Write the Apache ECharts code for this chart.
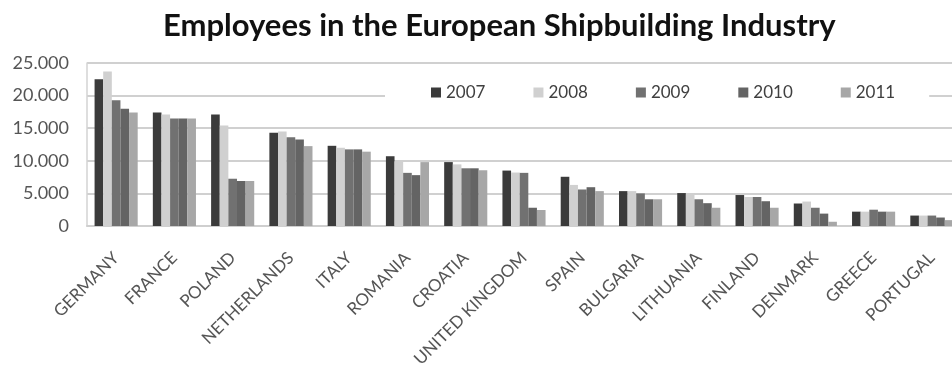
<!DOCTYPE html>
<html>
<head>
<meta charset="utf-8">
<script src="https://cdn.jsdelivr.net/npm/echarts@6/dist/echarts.min.js"></script>
<style>
  html, body { margin: 0; padding: 0; background: #fff; }
  #chart { width: 952px; height: 367px; }
</style>
</head>
<body>
<div id="chart"></div>
<script>
// Employees in shipbuilding, by country and year
const countries = ['GERMANY', 'FRANCE', 'POLAND', 'NETHERLANDS', 'ITALY', 'ROMANIA', 'CROATIA',
  'UNITED KINGDOM', 'SPAIN', 'BULGARIA', 'LITHUANIA', 'FINLAND', 'DENMARK', 'GREECE', 'PORTUGAL'];
const years = ['2007', '2008', '2009', '2010', '2011'];
const emp2007 = [22500, 17400, 17100, 14300, 12300, 10700, 9800, 8500, 7550, 5350, 5050, 4750, 3450, 2200, 1600];
const emp2008 = [23700, 17100, 15400, 14500, 12000, 9950, 9450, 8200, 6300, 5350, 5000, 4450, 3750, 2200, 1600];
const emp2009 = [19300, 16500, 7250, 13600, 11750, 8150, 8850, 8150, 5600, 5000, 4100, 4450, 2800, 2500, 1600];
const emp2010 = [18000, 16500, 6900, 13250, 11750, 7800, 8850, 2800, 5950, 4100, 3500, 3800, 1900, 2200, 1300];
const emp2011 = [17400, 16500, 6900, 12250, 11400, 9800, 8550, 2450, 5350, 4100, 2800, 2800, 650, 2200, 900];
const yTicks = [0, 5000, 10000, 15000, 20000, 25000];

const seriesValues = [emp2007, emp2008, emp2009, emp2010, emp2011];
const colors = ['#3b3b3b', '#d0d0d0', '#717171', '#646464', '#a7a7a7'];

const chart = echarts.init(document.getElementById('chart'), null, { renderer: 'canvas' });

chart.setOption({
  animation: false,
  backgroundColor: '#ffffff',
  color: colors,
  title: {
    text: 'Employees in the European Shipbuilding Industry',
    left: 158,
    top: 5,
    textStyle: { fontFamily: 'Lato', fontWeight: 'bold', fontSize: 31, color: '#111' }
  },
  legend: {
    data: years,
    left: 385,
    top: 74,
    backgroundColor: '#ffffff',
    padding: [10, 34, 10, 46],
    itemWidth: 10,
    itemHeight: 10,
    itemGap: 48,
    icon: 'rect',
    textStyle: { fontFamily: 'Lato', fontSize: 17, color: '#404040' },
    z: 10
  },
  // the plot runs a few pixels past the right edge of the canvas
  grid: { left: 87, width: 874, top: 63, bottom: 141, containLabel: false, outerBoundsMode: 'none' },
  xAxis: {
    type: 'category',
    data: countries,
    axisLine: { show: true, lineStyle: { color: '#cfcfcf', width: 2 } },
    axisTick: { show: false },
    axisLabel: {
      interval: 0, rotate: 45, margin: 29,
      fontFamily: 'Lato', fontSize: 17, color: '#555'
    }
  },
  yAxis: {
    type: 'value',
    min: yTicks[0],
    max: yTicks[yTicks.length - 1],
    interval: yTicks[1] - yTicks[0],
    axisLine: { show: true, lineStyle: { color: '#d3d3d3', width: 1.5 } },
    axisTick: { show: false },
    splitLine: { show: true, lineStyle: { color: '#d0d0d0', width: 2 } },
    axisLabel: {
      margin: 18,
      fontFamily: 'Lato', fontSize: 18, color: '#555',
      formatter: v => v === 0 ? '0' : v.toLocaleString('de-DE')
    }
  },
  series: years.map((y, i) => ({
    name: y,
    type: 'bar',
    data: seriesValues[i],
    barGap: '0%',
    barCategoryGap: '26%',
    itemStyle: { color: colors[i] }
  }))
});
</script>
</body>
</html>
